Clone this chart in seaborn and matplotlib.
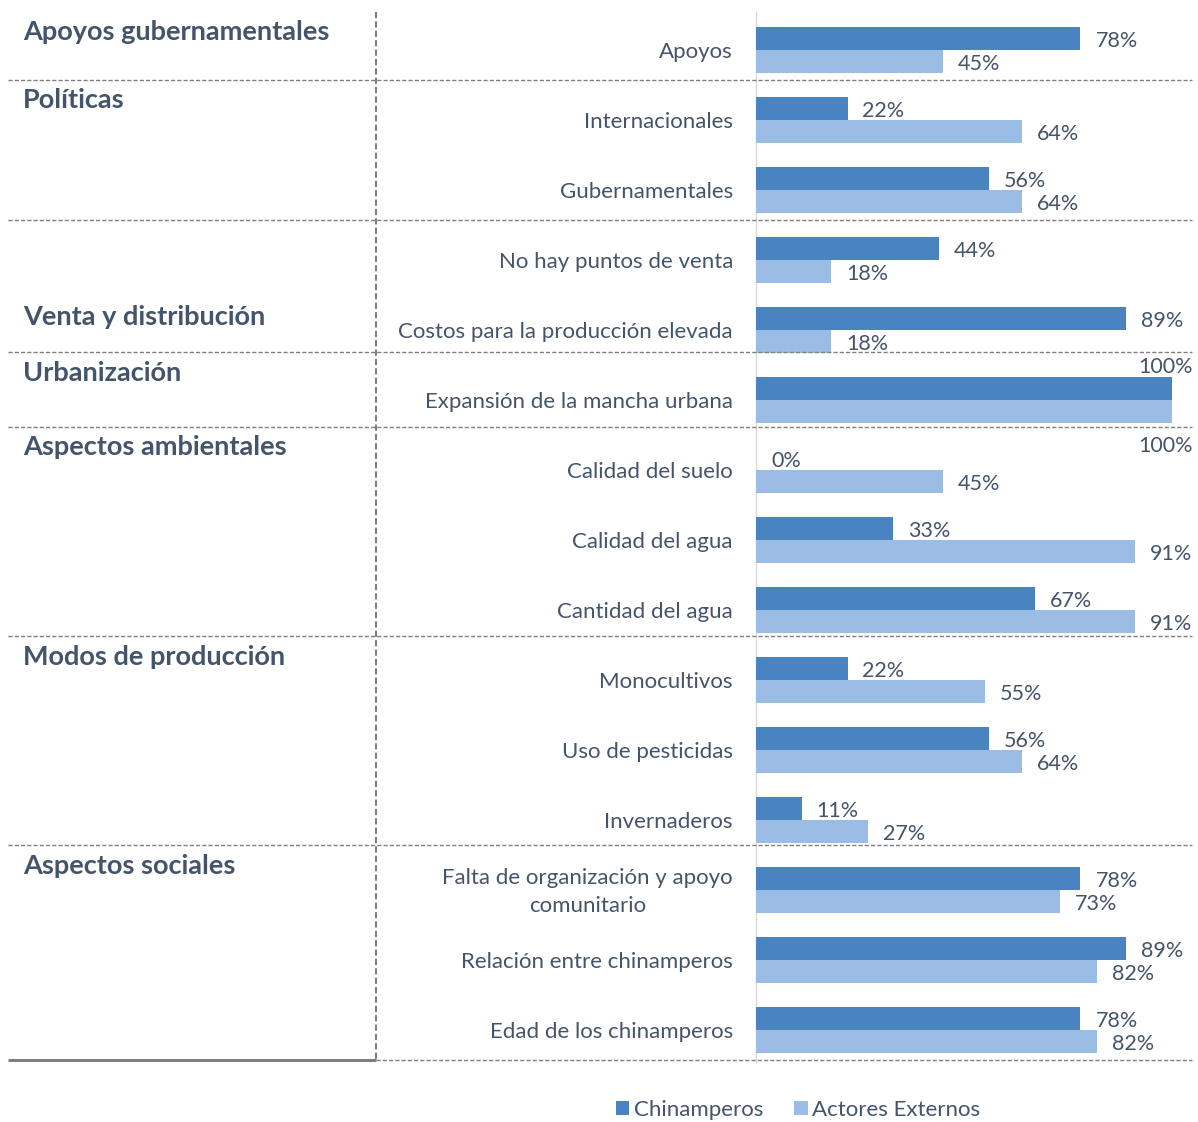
import pandas as pd
import matplotlib.pyplot as plt
import seaborn as sns

# Datos
categorias = [
    "Apoyos",
    "Internacionales",
    "Gubernamentales",
    "No hay puntos de venta",
    "Costos para la producción elevada",
    "Expansión de la mancha urbana",
    "Calidad del suelo",
    "Calidad del agua",
    "Cantidad del agua",
    "Monocultivos",
    "Uso de pesticidas",
    "Invernaderos",
    "Falta de organización y apoyo\ncomunitario",
    "Relación entre chinamperos",
    "Edad de los chinamperos",
]
chinamperos = [78, 22, 56, 44, 89, 100, 0, 33, 67, 22, 56, 11, 78, 89, 78]
actores = [45, 64, 64, 18, 18, 100, 45, 91, 91, 55, 64, 27, 73, 82, 82]

grupos = [
    "Apoyos gubernamentales",
    "Políticas",
    "Venta y distribución",
    "Urbanización",
    "Aspectos ambientales",
    "Modos de producción",
    "Aspectos sociales",
]
n_por_grupo = [1, 2, 2, 1, 3, 3, 3]

series = ["Chinamperos", "Actores Externos"]
colores = ["#4A84C0", "#9BBCE4"]

df = pd.DataFrame({
    "categoria": categorias * 2,
    "valor": chinamperos + actores,
    "serie": [series[0]] * len(categorias) + [series[1]] * len(categorias),
})

texto = "#44546A"
plt.rcParams["font.family"] = ["Lato", "DejaVu Sans"]

W, H = 1198, 1122
fig = plt.figure(figsize=(W / 100, H / 100), dpi=100)
ax = fig.add_axes([0, 0, 1, 1])

sns.barplot(
    data=df, y="categoria", x="valor", hue="serie", order=categorias,
    hue_order=series, palette=colores, saturation=1, width=0.66,
    orient="h", linewidth=0, ax=ax,
)
handles, labels = ax.get_legend_handles_labels()
ax.get_legend().remove()

# escala: 4.16 px por %, 70 px por fila
px_x = 4.16
x0 = 756
fila = 70
y0 = 50
ax.set_xlim(-x0 / px_x, (W - x0) / px_x)
ax.set_ylim((H - y0) / fila, -y0 / fila)
ax.axis("off")


def xd(px):
    return (px - x0) / px_x


def yd(px):
    return (px - y0) / fila


# eje vertical tenue
ax.plot([0, 0], [yd(12), yd(1062)], color="#D9D9D9", lw=1, zorder=0)

dy = 0.03  # pequeño ajuste vertical del texto

# etiquetas de categoría
for i, c in enumerate(categorias):
    ax.text(xd(733), i + dy, c, ha="right", va="center", multialignment="center",
            fontsize=16, color=texto, linespacing=1.5)

# etiquetas de valor
off = 0.165
fs_val = 15.5
for i, (a, b) in enumerate(zip(chinamperos, actores)):
    if a == 100 and b == 100:
        ax.text(xd(1193), i - 0.47, f"{a}%", ha="right", va="center",
                fontsize=fs_val, color=texto)
        ax.text(xd(1193), i + 0.65, f"{b}%", ha="right", va="center",
                fontsize=fs_val, color=texto)
        continue
    ax.text(a + 3.6, i - off + dy, f"{a}%", ha="left", va="center",
            fontsize=fs_val, color=texto)
    ax.text(b + 3.6, i + off + dy, f"{b}%", ha="left", va="center",
            fontsize=fs_val, color=texto)

# separadores y nombres de grupo
ajuste_titulo = [-0.26, -0.28, 0.82, -0.39, -0.33, -0.33, -0.35]
ajuste_sep = [0.43, 0.43, 0.32, 0.39, 0.37, 0.36, 0.43]
inicio = 0
for g, n, aj, sp in zip(grupos, n_por_grupo, ajuste_titulo, ajuste_sep):
    ax.text(xd(23), inicio + aj, g, ha="left", va="center", fontsize=19.5,
            fontweight="bold", color=texto)
    fin = inicio + n - 1
    ysep = fin + sp
    if fin == len(categorias) - 1:
        ax.plot([xd(8), xd(376)], [ysep, ysep], color="#7F7F7F", lw=2.2,
                solid_capstyle="butt")
        ax.plot([xd(376), xd(1192)], [ysep, ysep], color="#7F7F7F", lw=1,
                ls=(0, (3, 1.5)))
    else:
        ax.plot([xd(8), xd(1192)], [ysep, ysep], color="#7F7F7F", lw=1,
                ls=(0, (3, 1.5)))
    inicio += n

ax.plot([xd(376), xd(376)], [yd(12), yd(1060)], color="#7F7F7F", lw=1.5,
        ls=(0, (3, 1.5)))

fig.legend(handles, labels, loc="center", bbox_to_anchor=(798 / W, 1 - 1110 / H),
           ncol=2, frameon=False, fontsize=16, handlelength=0.6,
           handleheight=0.6, handletextpad=0.2, columnspacing=1.4,
           labelcolor=texto)

fig.savefig("out.png", dpi=100)
